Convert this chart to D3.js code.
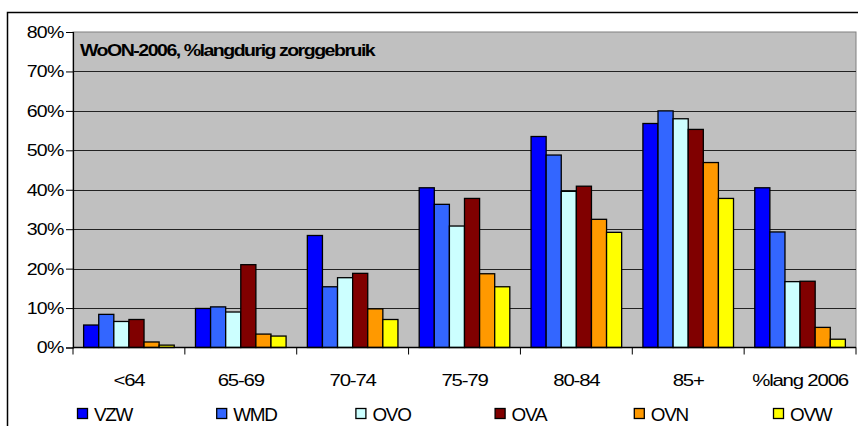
<!DOCTYPE html>
<html><head><meta charset="utf-8">
<script src="https://cdn.jsdelivr.net/npm/d3@7"></script>
<style>body{margin:0;background:#fff}svg{display:block}text{font-family:"Liberation Sans",Arial,sans-serif}</style>
</head><body><svg id="c" width="858" height="426"></svg>
<script>
const categories = ["<64","65-69","70-74","75-79","80-84","85+","%lang 2006"];
const seriesNames = ["VZW","WMD","OVO","OVA","OVN","OVW"];
const VZW = [5.7, 9.9, 28.4, 40.5, 53.5, 56.8, 40.5];
const WMD = [8.4, 10.3, 15.4, 36.3, 48.8, 60.0, 29.3];
const OVO = [6.6, 9.0, 17.7, 30.8, 39.6, 58.0, 16.7];
const OVA = [7.1, 21.0, 18.8, 37.8, 40.9, 55.3, 16.8];
const OVN = [1.4, 3.4, 9.8, 18.7, 32.5, 46.9, 5.1];
const OVW = [0.6, 2.9, 7.1, 15.4, 29.2, 37.8, 2.1];
const seriesValues = [VZW, WMD, OVO, OVA, OVN, OVW];
const colors = ["#0000FF","#3366FF","#CCFFFF","#800000","#FF9900","#FFFF00"];
const yTicks = [0,10,20,30,40,50,60,70,80];
const title = "WoON-2006, %langdurig zorggebruik";

const svg = d3.select("#c");
const L = 73, R = 856, T = 32, B = 347.5;
const x = d3.scaleBand().domain(categories).range([L, R]).padding(0);
const bw = x.bandwidth();
const xs = d3.scaleBand().domain(seriesNames).range([bw*0.095, bw*0.905]).padding(0);
const y = d3.scaleLinear().domain([0, 80]).range([B, T]);

// outer border
svg.append("path").attr("d", `M7.5,430 V12.5 H860`).attr("fill","none").attr("stroke","#000").attr("stroke-width",1.5);

// plot bg
svg.append("rect").attr("x",L).attr("y",T).attr("width",R-L).attr("height",B-T).attr("fill","#C0C0C0")
  .attr("stroke","#808080").attr("stroke-width",1);

// gridlines
svg.append("g").selectAll("line").data(yTicks.filter(d=>d>0 && d<80)).join("line")
  .attr("x1",L).attr("x2",R).attr("y1",d=>Math.round(y(d))+0.5).attr("y2",d=>Math.round(y(d))+0.5)
  .attr("stroke","#222").attr("stroke-width",1);

// bars
const g = svg.append("g");
seriesValues.forEach((vals, si) => {
  g.append("g").selectAll("rect").data(vals).join("rect")
    .attr("x",(d,i)=>x(categories[i]) + xs(seriesNames[si]))
    .attr("y",d=>y(d))
    .attr("width",xs.bandwidth())
    .attr("height",d=>B - y(d))
    .attr("fill",colors[si])
    .attr("stroke","#000").attr("stroke-width",1.3);
});

// y axis
const yAxis = d3.axisLeft(y).tickValues(yTicks).tickFormat(d=>d+"%").tickSize(7).tickPadding(3);
const ya = svg.append("g").attr("transform",`translate(${L},0)`).call(yAxis);
ya.select(".domain").attr("stroke","#000").attr("stroke-width",1.2);
ya.selectAll(".tick line").attr("stroke","#000");
ya.selectAll(".tick text").attr("font-size",17).attr("fill","#000")
  .attr("font-family","Liberation Sans, Arial, sans-serif")
  .attr("letter-spacing","-0.6px")
  .attr("transform","translate(-10,0) scale(1.15,1) translate(10.6,0)");

// x axis
const xa = svg.append("g").attr("transform",`translate(0,${B})`);
xa.append("line").attr("x1",L).attr("x2",R).attr("y1",0).attr("y2",0).attr("stroke","#000").attr("stroke-width",1.5);
xa.selectAll("line.t").data(d3.range(categories.length+1)).join("line").attr("class","t")
  .attr("x1",i=>L+i*bw).attr("x2",i=>L+i*bw).attr("y1",0).attr("y2",7).attr("stroke","#000");
xa.selectAll("text").data(categories).join("text")
  .attr("transform",d=>`translate(${x(d)+bw/2},${38.5}) scale(1.2,1)`)
  .attr("text-anchor","middle").attr("font-size",17).attr("letter-spacing","-1px").attr("fill","#000")
  .text(d=>d);

// title
svg.append("text").attr("transform",`translate(80,56) scale(1.15,1)`)
  .attr("font-size",17).attr("font-weight","bold").attr("letter-spacing","-1.3px").attr("fill","#000").text(title);

// legend
const lg = svg.append("g");
seriesNames.forEach((s,i)=>{
  const lx = 77 + i*139.2;
  lg.append("rect").attr("x",lx+0.5).attr("y",408.5).attr("width",10).attr("height",10)
    .attr("fill",colors[i]).attr("stroke","#000").attr("stroke-width",1.3);
  lg.append("text").attr("transform",`translate(${lx+17},420.5) scale(1.05,1)`)
    .attr("font-size",18).attr("letter-spacing","-1.2px").attr("fill","#000").text(s);
});
</script></body></html>
